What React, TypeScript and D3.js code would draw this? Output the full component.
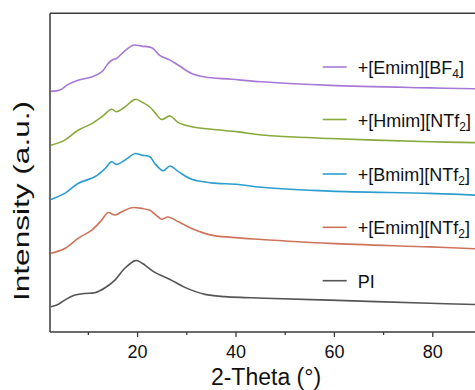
import React from "react";
import * as d3 from "d3";

const seriesNames = ["+[Emim][BF4]", "+[Hmim][NTf2]", "+[Bmim][NTf2]", "+[Emim][NTf2]", "PI"];
const seriesColors = ["#a779d6", "#88a93c", "#2e9ecf", "#cf745c", "#555555"];

const thetaBF4 = [2.4, 4.2, 5.9, 7.9, 10.7, 12.7, 14.0, 15.0, 15.7, 17.4, 19.1, 20.8, 22.9, 24.5, 26.6, 28.3, 31.0, 33.7, 39.1, 45.2, 59.1, 79.4, 89];
const intBF4 = [75.5, 75.9, 77.7, 79.0, 80.0, 81.6, 84.2, 85.5, 85.8, 88.2, 90.0, 89.7, 89.2, 86.8, 85.3, 83.7, 81.1, 80.0, 79.3, 78.5, 77.4, 76.6, 76.3];

const thetaHmim = [2.4, 5.2, 7.9, 10.7, 12.7, 14.7, 15.7, 17.4, 19.5, 20.8, 22.5, 23.5, 24.9, 26.6, 28.3, 31.0, 35.0, 40.5, 45.2, 59.1, 79.4, 89];
const intHmim = [58.6, 60.2, 63.3, 65.4, 67.5, 69.9, 69.1, 70.6, 73.0, 72.2, 70.6, 68.9, 66.7, 67.8, 65.7, 64.4, 63.6, 62.8, 61.8, 60.7, 59.7, 59.4];

const thetaBmim = [2.4, 5.2, 7.9, 11.3, 13.4, 14.7, 15.7, 17.4, 19.5, 20.8, 22.5, 23.5, 25.2, 26.6, 28.3, 31.0, 35.0, 40.5, 45.2, 59.1, 79.4, 89];
const intBmim = [41.6, 43.5, 46.6, 48.7, 51.3, 53.4, 52.6, 53.9, 56.0, 55.5, 55.0, 52.9, 50.6, 52.1, 50.3, 47.9, 46.8, 46.3, 45.4, 44.2, 43.5, 42.9];

const thetaEmim = [2.4, 5.2, 7.9, 10.7, 12.7, 14.0, 15.4, 16.8, 18.8, 20.8, 22.5, 23.5, 24.9, 26.2, 28.3, 31.0, 35.0, 39.1, 44.5, 59.1, 79.4, 89];
const intEmim = [24.7, 26.2, 29.4, 32.0, 35.1, 37.5, 36.7, 37.7, 39.0, 38.8, 38.2, 37.0, 35.4, 36.1, 34.6, 32.5, 30.4, 29.7, 29.1, 27.8, 26.7, 26.1];

const thetaPI = [2.4, 3.9, 5.2, 6.9, 9.3, 11.3, 13.4, 15.4, 17.4, 19.5, 20.1, 21.5, 23.5, 26.6, 29.6, 33.7, 37.7, 41.8, 45.9, 59.1, 79.4, 89];
const intPI = [7.9, 8.7, 10.0, 11.4, 12.1, 12.3, 13.9, 16.3, 20.0, 22.4, 22.3, 21.0, 18.7, 16.5, 14.0, 11.8, 11.1, 10.8, 10.6, 10.0, 9.0, 8.6];

const xMajorTicks = [20, 40, 60, 80];
const xMinorTicks = [10, 30, 50, 70];

const W = 475, H = 390;
const left = 50, top = 13.3, bottom = 332, right = 482;

export default function App() {
  const x = d3.scaleLinear().domain([2.2, 90]).range([left, right]);
  const y = d3.scaleLinear().domain([0, 100]).range([bottom, top]);
  const line = d3.line<[number, number]>().x(d => x(d[0])).y(d => y(d[1])).curve(d3.curveCatmullRom.alpha(0.5));
  const thetas = [thetaBF4, thetaHmim, thetaBmim, thetaEmim, thetaPI];
  const ints = [intBF4, intHmim, intBmim, intEmim, intPI];
  const legendBase = [74, 126.5, 181, 234.3, 287.7];
  const font = "'Liberation Sans', Arial, sans-serif";
  const frame = "#3a3a3a";

  const renderLabel = (name: string) => {
    const m = name.match(/^(.*?)(\d)(\]?)$/);
    if (!m) return name;
    return (
      <>
        {m[1]}
        <tspan fontSize={12} dy={4}>{m[2]}</tspan>
        <tspan dy={-4}>{m[3]}</tspan>
      </>
    );
  };

  return (
    <svg width={W} height={H} style={{ position: "absolute", left: 0, top: 0, display: "block" }} fontFamily={font}>
      <rect width={W} height={H} fill="#fff" />
      {thetas.map((t, i) => (
        <path key={i} d={line(t.map((v, j) => [v, ints[i][j]] as [number, number])) || ""} fill="none" stroke={seriesColors[i]} strokeWidth={1.6} />
      ))}
      <line x1={left} x2={W + 10} y1={top} y2={top} stroke={frame} strokeWidth={1.5} />
      <line x1={left} x2={W + 10} y1={bottom} y2={bottom} stroke={frame} strokeWidth={1.5} />
      <line x1={left} x2={left} y1={top} y2={bottom} stroke={frame} strokeWidth={1.5} />
      {xMajorTicks.map(t => (
        <g key={t}>
          <line x1={x(t)} x2={x(t)} y1={bottom} y2={bottom + 5} stroke={frame} strokeWidth={1.3} />
          <text x={x(t)} y={357.5} textAnchor="middle" fontSize={18} fill="#111">{t}</text>
        </g>
      ))}
      {xMinorTicks.map(t => (
        <line key={t} x1={x(t)} x2={x(t)} y1={bottom} y2={bottom + 3} stroke={frame} strokeWidth={1.3} />
      ))}
      <text x={266} y={385} textAnchor="middle" fontSize={23} fill="#111">2-Theta (°)</text>
      <text transform="translate(29,201) rotate(-90)" textAnchor="middle" fontSize={22} fill="#111" textLength={200} lengthAdjust="spacingAndGlyphs">Intensity (a.u.)</text>
      {seriesNames.map((n, i) => (
        <g key={n}>
          <line x1={322.7} x2={346.7} y1={legendBase[i] - 7} y2={legendBase[i] - 7} stroke={seriesColors[i]} strokeWidth={1.6} />
          <text x={357.7} y={legendBase[i]} fontSize={18} fill="#111">{renderLabel(n)}</text>
        </g>
      ))}
    </svg>
  );
}
